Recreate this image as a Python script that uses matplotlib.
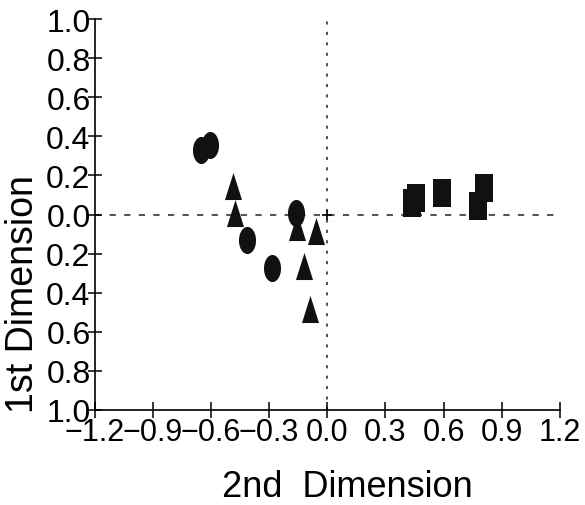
import numpy as np
import matplotlib
matplotlib.use("Agg")
import matplotlib.pyplot as plt
from matplotlib.ticker import FuncFormatter

plt.rcParams['font.family'] = ['Liberation Sans', 'DejaVu Sans']

# group 1 (circles)
circ_x = [-0.654, -0.606, -0.414, -0.285, -0.163]
circ_y = [0.329, 0.358, -0.132, -0.273, 0.006]
# group 2 (triangles)
tri_x = [-0.489, -0.475, -0.154, -0.057, -0.118, -0.088]
tri_y = [0.145, 0.010, -0.063, -0.086, -0.263, -0.486]
# group 3 (squares)
sq_x = [0.436, 0.457, 0.590, 0.808, 0.778]
sq_y = [0.059, 0.085, 0.108, 0.137, 0.045]

xticks = [-1.2, -0.9, -0.6, -0.3, 0.0, 0.3, 0.6, 0.9, 1.2]
yticks = [-1.0, -0.8, -0.6, -0.4, -0.2, 0.0, 0.2, 0.4, 0.6, 0.8, 1.0]

# tall markers (scan is stretched vertically)
a = 0.63
t = np.linspace(0, 2 * np.pi, 60)
ellipse = list(zip(a * np.cos(t), np.sin(t)))
triangle = [(-a, -1), (a, -1), (0, 1), (-a, -1)]
rect = [(-a, -1), (a, -1), (a, 1), (-a, 1), (-a, -1)]

fig = plt.figure(figsize=(5.85, 5.06), dpi=100)
ax = fig.add_axes([0.162, 0.188, 0.795, 0.772])

ax.axhline(0, color='#555555', lw=1.5, ls=(0, (3, 4)), zorder=1)
ax.axvline(0, color='#555555', lw=1.5, ls=(0, (1.5, 3.5)), zorder=1)
ax.plot([0], [0], marker='+', color='black', ms=7, mew=1.2, zorder=2)

ms = 19.5
ax.plot(circ_x, circ_y, ls='none', marker=ellipse, ms=ms, color='#111111', mew=0, zorder=3)
ax.plot(tri_x, tri_y, ls='none', marker=triangle, ms=ms, color='#111111', mew=0, zorder=3)
ax.plot(sq_x, sq_y, ls='none', marker=rect, ms=ms, color='#111111', mew=0, zorder=3)

ax.set_xlim(-1.2, 1.2)
ax.set_ylim(-1.0, 1.0)
ax.set_xticks(xticks)
ax.set_yticks(yticks)
ax.xaxis.set_major_formatter(FuncFormatter(lambda v, p: f"{v:.1f}".replace('-', '\u2212')))
ax.yaxis.set_major_formatter(FuncFormatter(lambda v, p: f"{abs(v):.1f}"))

for s in ['top', 'right']:
    ax.spines[s].set_visible(False)
for s in ['left', 'bottom']:
    ax.spines[s].set_linewidth(1.2)
    ax.spines[s].set_clip_on(False)

ax.tick_params(axis='x', direction='inout', length=12, width=1.1, labelsize=22, pad=-1)
ax.tick_params(axis='y', direction='inout', length=10, width=1.1, labelsize=23, pad=-2)

ax.set_xlabel('2nd  Dimension', fontsize=26)
ax.xaxis.set_label_coords(0.544, -0.152)
ax.set_ylabel('1st Dimension', fontsize=27)
ax.yaxis.set_label_coords(-0.115, 0.3)

fig.savefig('out.png', dpi=100)
